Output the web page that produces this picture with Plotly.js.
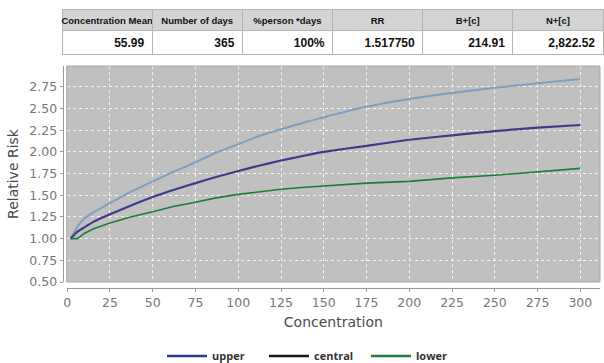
<!DOCTYPE html>
<html>
<head>
<meta charset="utf-8">
<script src="https://cdn.plot.ly/plotly-3.0.1.min.js"></script>
<style>
html,body{margin:0;padding:0;background:#fff;}
#chart{width:604px;height:363px;}
</style>
</head>
<body>
<div id="chart"></div>
<script>
// ---- table data ----
var tableHeaders = ["Concentration Mean", "Number of days", "%person *days", "RR", "B+[c]", "N+[c]"];
var tableValues = ["55.99", "365", "100%", "1.517750", "214.91", "2,822.52"];

// ---- curve data ----
var concentration = [2, 6, 10, 15, 25, 37, 50, 62, 75, 87, 100, 112, 125, 137, 150, 175, 200, 225, 250, 275, 300];
var upperRR   = [1.00, 1.14, 1.23, 1.30, 1.41, 1.54, 1.66, 1.77, 1.88, 1.99, 2.09, 2.18, 2.26, 2.33, 2.40, 2.52, 2.61, 2.68, 2.74, 2.79, 2.84];
var centralRR = [1.00, 1.08, 1.13, 1.19, 1.28, 1.38, 1.48, 1.56, 1.64, 1.71, 1.78, 1.84, 1.90, 1.95, 2.00, 2.07, 2.14, 2.19, 2.24, 2.28, 2.31];
var lowerRR   = [1.00, 1.00, 1.06, 1.11, 1.18, 1.25, 1.31, 1.37, 1.42, 1.47, 1.51, 1.54, 1.57, 1.59, 1.61, 1.64, 1.66, 1.70, 1.73, 1.77, 1.81];

var seriesNames = ["upper", "central", "lower"];
var lineColors = ["#7f9fbf", "#3c3c8a", "#1b7c3c"];
var legendColors = ["#2c3a8a", "#1a1a1a", "#1f7d3d"];

var W = 604, H = 363;
var tblFont = "Liberation Sans, Arial, sans-serif";
var tickFont = {family: "DejaVu Sans, Verdana, sans-serif", size: 12.5, color: "#777"};
var titleFont = {family: "DejaVu Sans, Verdana, sans-serif", size: 14, color: "#4a4a4a"};

function noWrap(s) { return s.replace(/ /g, "\u00a0"); }

var traces = [];
traces.push({
  type: "table",
  domain: {x: [62 / W, 603 / W], y: [1 - 60 / H, 1 - 9 / H]},
  columnwidth: tableHeaders.map(function () { return 1; }),
  header: {
    values: tableHeaders.map(noWrap),
    align: "center",
    height: 21,
    fill: {color: "#d4d4d4"},
    line: {color: "#b4b4b4", width: 1},
    font: {family: tblFont, size: 9.5, color: "#111", weight: "bold"}
  },
  cells: {
    values: tableValues.map(function (v) { return [v]; }),
    align: "right",
    height: 24,
    fill: {color: "#ffffff"},
    line: {color: "#b4b4b4", width: 1},
    font: {family: tblFont, size: 12, color: "#111", weight: "bold"}
  }
});

var ys = [upperRR, centralRR, lowerRR];
var widths = [2, 2.2, 1.6];
var shapes = ["spline", "spline", "linear"];
for (var i = 0; i < 3; i++) {
  traces.push({
    type: "scatter", mode: "lines",
    x: concentration, y: ys[i],
    name: seriesNames[i], showlegend: false,
    line: {color: lineColors[i], width: widths[i], shape: shapes[i], smoothing: 0.4},
    hoverinfo: "skip"
  });
}
for (var j = 0; j < 3; j++) {
  traces.push({
    type: "scatter", mode: "lines",
    x: [null], y: [null],
    name: seriesNames[j], showlegend: true,
    line: {color: legendColors[j], width: 2.5}
  });
}

var layout = {
  width: W, height: H,
  margin: {l: 0, r: 0, t: 0, b: 0, pad: 0, autoexpand: false},
  paper_bgcolor: "#ffffff",
  plot_bgcolor: "#c0c0c0",
  showlegend: true,
  legend: {
    orientation: "h", x: 162 / W, xanchor: "left", y: 1 - 356 / H, yanchor: "middle",
    entrywidth: 47, entrywidthmode: "pixels", itemwidth: 40,
    font: {family: "Open Sans, sans-serif", size: 11, color: "#333", weight: "bold"}
  },
  xaxis: {
    domain: [66.7 / W, 600 / W],
    range: [-0.3, 311.5],
    anchor: "free", position: 1 - 287.5 / H,
    tickvals: [0, 25, 50, 75, 100, 125, 150, 175, 200, 225, 250, 275, 300],
    showline: true, linecolor: "#9a9a9a", linewidth: 1.5,
    ticks: "outside", ticklen: 3, tickcolor: "#9a9a9a",
    showgrid: true, gridcolor: "rgba(255,255,255,0.8)", gridwidth: 1, griddash: "3px,3px",
    zeroline: false,
    tickfont: tickFont,
    title: {text: "Concentration", font: titleFont, standoff: 8},
    fixedrange: true
  },
  yaxis: {
    domain: [1 - 282 / H, 1 - 66 / H],
    range: [0.5, 2.99],
    anchor: "free", position: 62.7 / W,
    tickvals: [0.5, 0.75, 1.0, 1.25, 1.5, 1.75, 2.0, 2.25, 2.5, 2.75],
    tickformat: ".2f",
    showline: true, linecolor: "#9a9a9a", linewidth: 1.5,
    ticks: "outside", ticklen: 3, tickcolor: "#9a9a9a",
    showgrid: true, gridcolor: "rgba(255,255,255,0.8)", gridwidth: 1, griddash: "3px,3px",
    zeroline: false,
    tickfont: tickFont,
    title: {text: "Relative Risk", font: titleFont, standoff: 6},
    fixedrange: true
  },
  shapes: [{
    type: "rect", xref: "x domain", yref: "y domain", x0: 0, x1: 1, y0: 0, y1: 1,
    line: {color: "#a8a8a8", width: 1}, layer: "above"
  }]
};

Plotly.newPlot("chart", traces, layout, {staticPlot: true, displayModeBar: false});
</script>
</body>
</html>
